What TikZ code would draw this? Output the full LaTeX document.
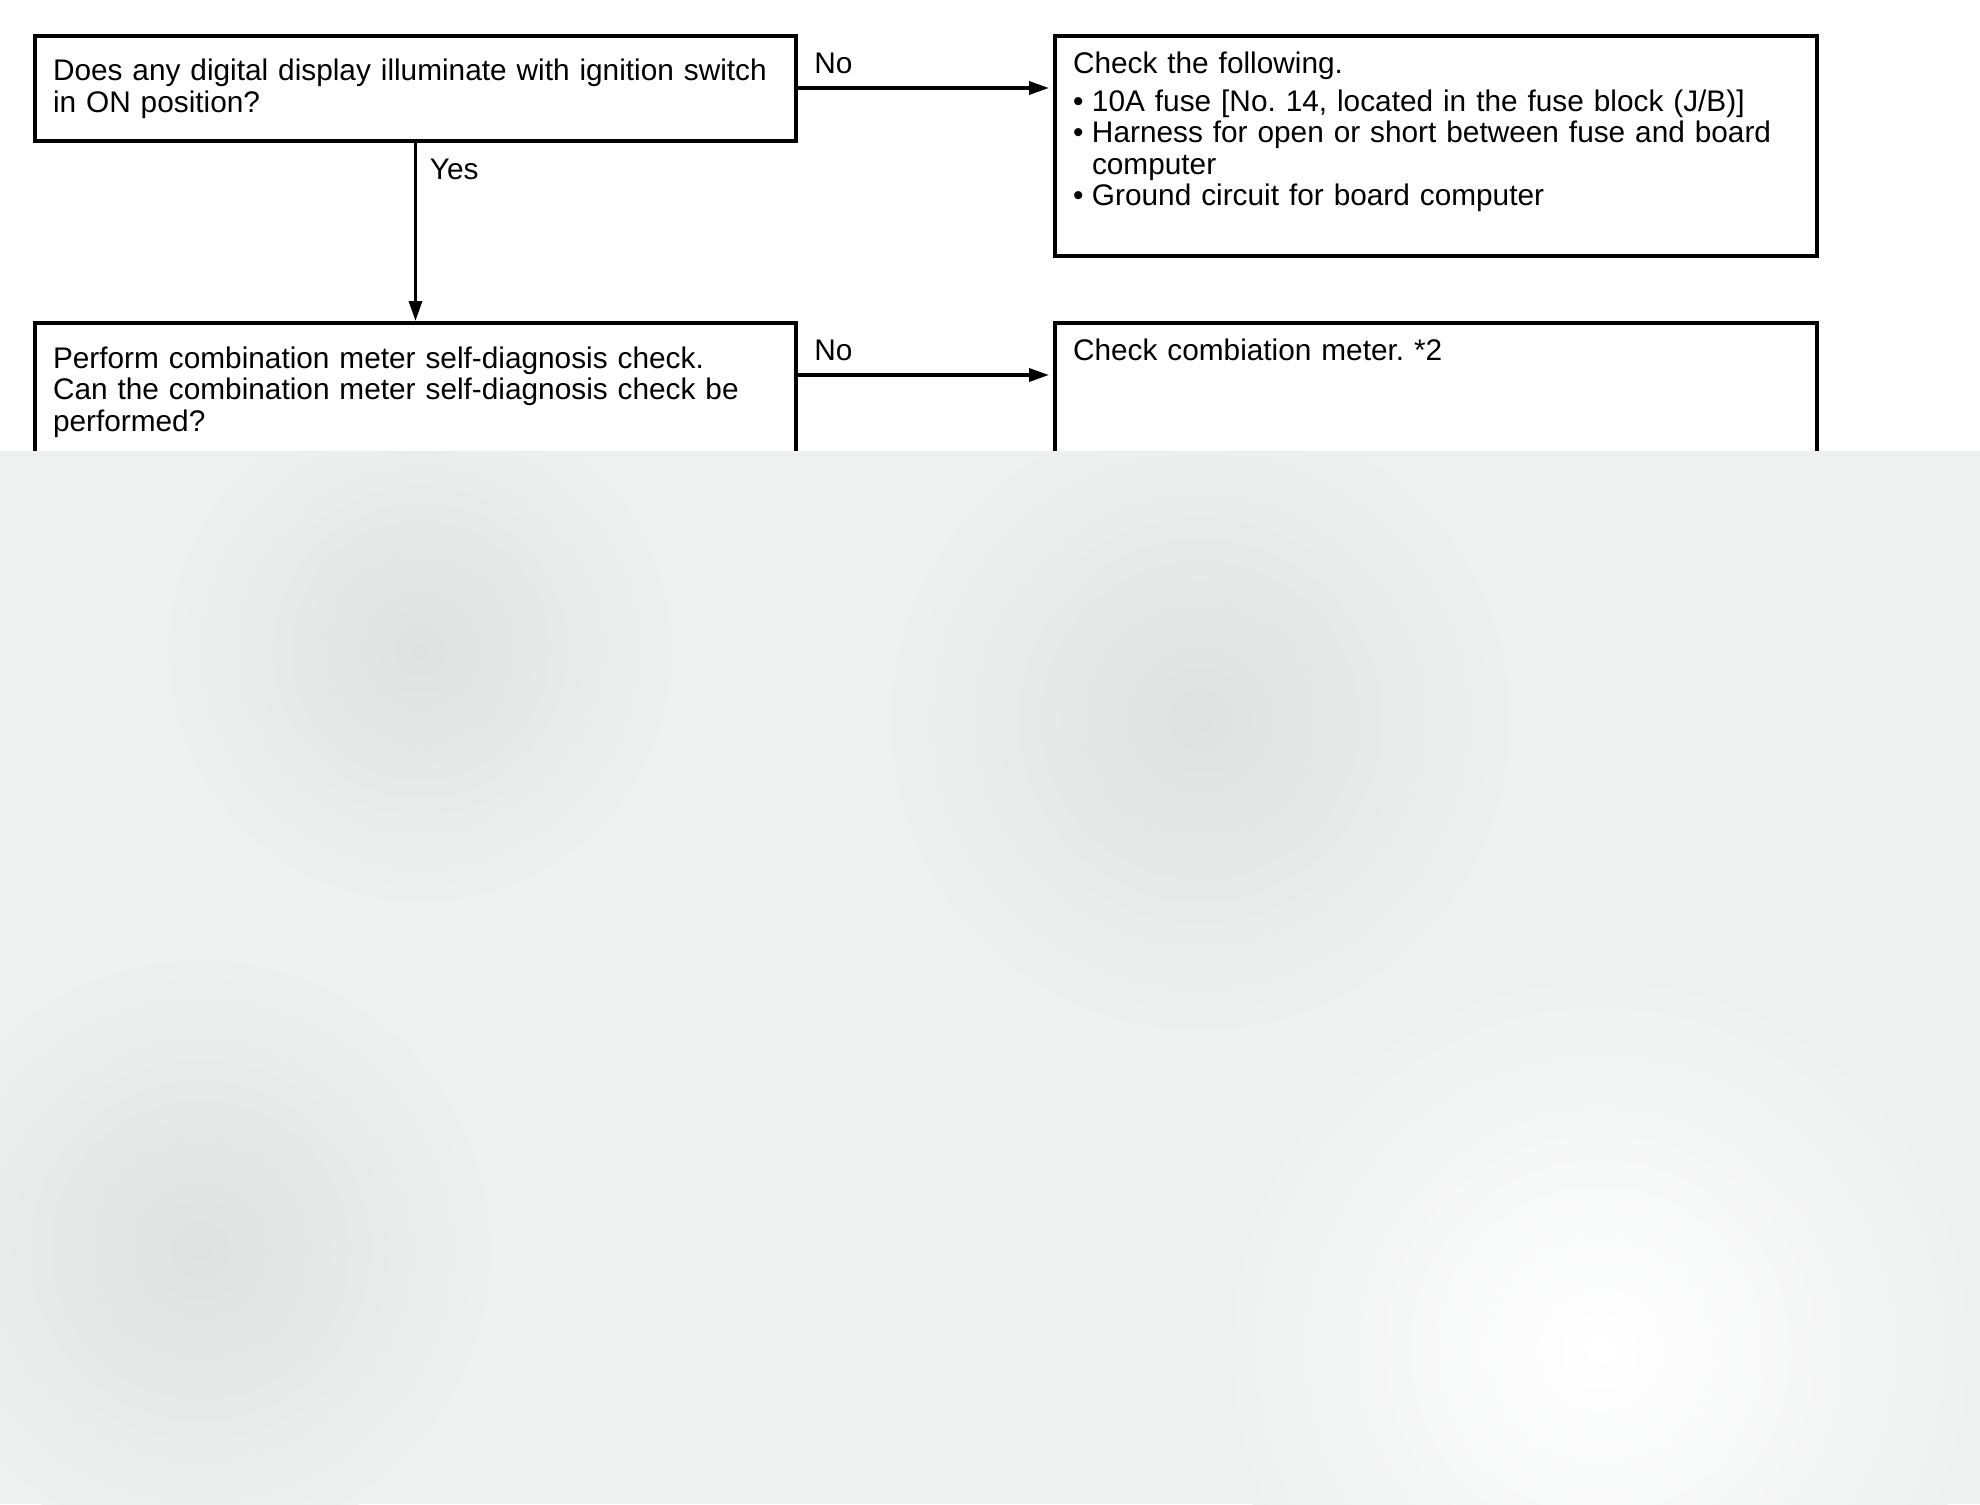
\documentclass[tikz,border=0pt]{standalone}
\usepackage{fontspec}
\setmainfont{Liberation Sans}
\usetikzlibrary{arrows.meta,calc}
\definecolor{fog}{RGB}{239,240,240}
\definecolor{fogdark}{RGB}{224,225,225}
\newcommand\fcbul[1]{\noindent\makebox[9.5pt][l]{\textbullet}#1\par}
\begin{document}
\begin{tikzpicture}[x=0.5pt,y=-0.5pt,
  box/.style={draw=black, line width=2pt, anchor=north west, inner xsep=9pt, inner ysep=0pt,
    font=\fontsize{14.9}{15.8}\selectfont, align=left},
  arr/.style={line width=1.7pt, -{Triangle[length=10pt,width=6.5pt]}},
  lbl/.style={font=\fontsize{14.9}{15.8}\selectfont, inner sep=0pt}]
\useasboundingbox (0,0) rectangle (1980,1504);
\fill[white] (0,0) rectangle (1980,1504);
\frenchspacing
% left column
\node[box, minimum width=380.5pt, text width=362.5pt] (q1) at (33,34)
  {\begin{minipage}[c][52.5pt][t]{362.5pt}\raggedright\frenchspacing\vspace*{11.6pt}%
   Does any digital display illuminate with ignition switch\par in ON position?
   \end{minipage}};
\node[box, minimum width=380.5pt, text width=362.5pt] (q2) at (33,321)
  {\begin{minipage}[c][65pt][t]{362.5pt}\raggedright\frenchspacing\vspace*{11.8pt}%
   Perform combination meter self-diagnosis check.\par Can the combination meter self-diagnosis check be\par performed?
   \end{minipage}};
% right column
\node[box, minimum width=381pt, text width=363pt] (r1) at (1053,34)
  {\begin{minipage}[c][110pt][t]{363pt}\raggedright\frenchspacing\vspace*{7.8pt}%
   Check the following.\par\vspace{3.2pt}
   \fcbul{10A fuse [No. 14, located in the fuse block (J/B)]}
   \fcbul{Harness for open or short between fuse and board}
   \noindent\hspace*{9.5pt}computer\par
   \fcbul{Ground circuit for board computer}
   \end{minipage}};
\node[box, minimum width=381pt, text width=363pt] (r2) at (1053,321)
  {\begin{minipage}[c][150pt][t]{363pt}\raggedright\frenchspacing\vspace*{7.8pt}%
   Check combiation meter. *2
   \end{minipage}};
% connectors
\coordinate (n1) at ($(q1.north east)+(0,54)$);
\coordinate (n2) at ($(q2.north east)+(0,54)$);
\draw[arr] (q1.south) -- (q2.north);
\draw[arr, shorten >=2pt] (n1) -- (n1 -| r1.west);
\draw[arr, shorten >=2pt] (n2) -- (n2 -| r2.west);
\node[lbl, anchor=north west] (yes) at ($(q1.south)+(14,16)$) {Yes};
\node[lbl, anchor=south west] (no1) at ($(n1)+(16,-14)$) {No};
\node[lbl, anchor=south west] (no2) at ($(n2)+(16,-14)$) {No};
% overlay
\begin{scope}
\clip (0,451) rectangle (1980,1504);
\fill[fog] (0,451) rectangle (1980,1504);
\shade[inner color=fogdark, outer color=fog] (420,650) circle[radius=260];
\shade[inner color=fogdark, outer color=fog] (1200,720) circle[radius=320];
\shade[inner color=fogdark, outer color=fog] (200,1250) circle[radius=300];
\shade[inner color=white, outer color=fog] (1600,1350) circle[radius=380];
\end{scope}
\end{tikzpicture}
\end{document}
